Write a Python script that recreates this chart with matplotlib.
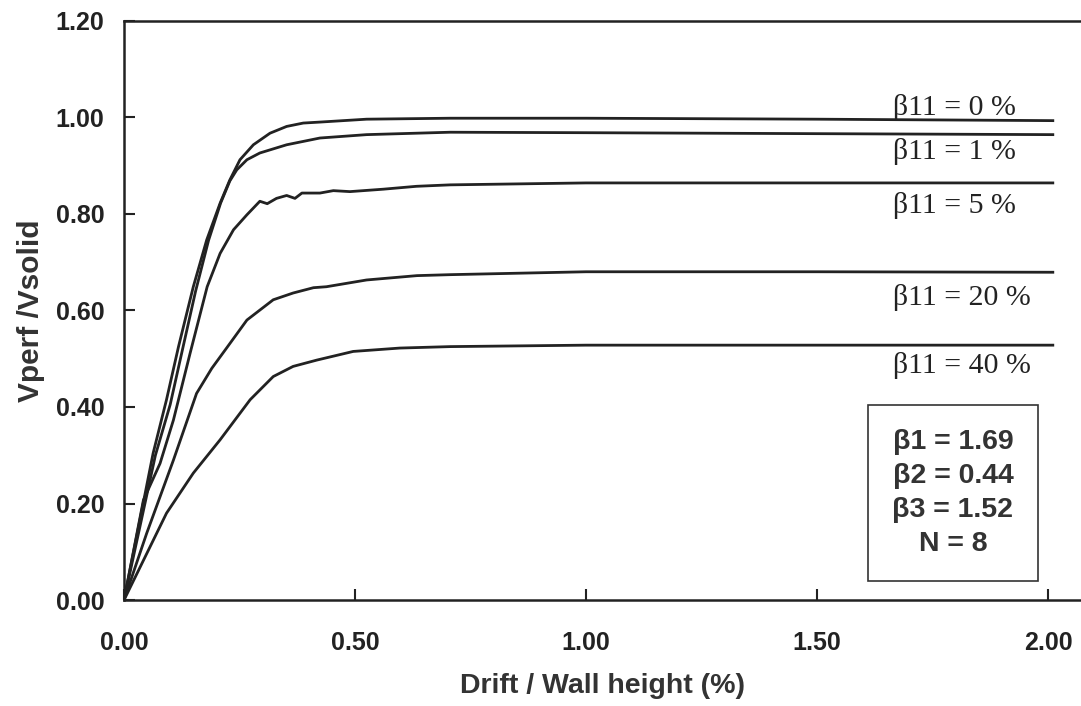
import numpy as np
import matplotlib
matplotlib.use('Agg')
import matplotlib.pyplot as plt

# curves: drift (%) vs Vperf/Vsolid
x_b0 = [0.0, 0.063, 0.092, 0.118, 0.150, 0.179, 0.208, 0.229, 0.251, 0.280, 0.316, 0.352, 0.388,
        0.424, 0.525, 0.706, 1.0, 1.5, 2.01]
y_b0 = [0.0, 0.304, 0.415, 0.525, 0.649, 0.746, 0.822, 0.870, 0.912, 0.943, 0.967, 0.981, 0.988,
        0.990, 0.996, 0.998, 0.998, 0.996, 0.993]

x_b1 = [0.0, 0.068, 0.100, 0.128, 0.155, 0.183, 0.209, 0.229, 0.244, 0.266, 0.294, 0.352, 0.424,
        0.525, 0.706, 1.0, 1.5, 2.01]
y_b1 = [0.0, 0.300, 0.405, 0.525, 0.640, 0.745, 0.822, 0.868, 0.891, 0.912, 0.926, 0.943, 0.957,
        0.964, 0.969, 0.968, 0.966, 0.964]

x_b5 = [0.0, 0.042, 0.078, 0.107, 0.143, 0.180, 0.208, 0.237, 0.266, 0.294, 0.310, 0.330, 0.352,
        0.370, 0.385, 0.424, 0.453, 0.489, 0.561, 0.633, 0.706, 1.0, 1.5, 2.01]
y_b5 = [0.0, 0.207, 0.283, 0.373, 0.511, 0.649, 0.718, 0.767, 0.798, 0.826, 0.821, 0.832, 0.838,
        0.832, 0.843, 0.843, 0.848, 0.846, 0.851, 0.857, 0.860, 0.864, 0.864, 0.864]

x_b20 = [0.0, 0.049, 0.078, 0.107, 0.157, 0.190, 0.222, 0.266, 0.323, 0.366, 0.410, 0.438, 0.525,
         0.634, 0.706, 1.0, 1.5, 2.01]
y_b20 = [0.0, 0.138, 0.214, 0.290, 0.428, 0.480, 0.522, 0.580, 0.622, 0.636, 0.647, 0.649, 0.663,
         0.672, 0.674, 0.680, 0.680, 0.679]

x_b40 = [0.0, 0.092, 0.150, 0.208, 0.273, 0.323, 0.366, 0.417, 0.496, 0.597, 0.706, 1.0, 1.5, 2.01]
y_b40 = [0.0, 0.180, 0.263, 0.332, 0.415, 0.463, 0.484, 0.497, 0.515, 0.522, 0.525, 0.528, 0.528, 0.528]

curve_labels = ['β11 = 0 %', 'β11 = 1 %', 'β11 = 5 %', 'β11 = 20 %', 'β11 = 40 %']
label_y = [1.005, 0.914, 0.802, 0.611, 0.470]
params_text = 'β1 = 1.69\nβ2 = 0.44\nβ3 = 1.52\nN = 8'

plt.rcParams['font.family'] = ['Liberation Sans', 'DejaVu Sans']

fig = plt.figure(figsize=(10.81, 7.06), dpi=100)
ax = fig.add_axes([0.1147, 0.150, 0.8853, 0.8207])

for xs, ys in [(x_b0, y_b0), (x_b1, y_b1), (x_b5, y_b5), (x_b20, y_b20), (x_b40, y_b40)]:
    ax.plot(xs, ys, color='#222222', lw=2.0)

for txt, yy in zip(curve_labels, label_y):
    ax.text(1.665, yy, txt, fontsize=21.5, family=['Liberation Serif', 'DejaVu Serif'],
            va='baseline', ha='left', color='#222222')

ax.text(1.794, 0.222, params_text, fontsize=20.5, fontweight='bold', ha='center', va='center',
        linespacing=1.4, color='#333333',
        bbox=dict(boxstyle='square,pad=0.85', fc='white', ec='#333333', lw=1.2))

ax.set_xlim(0, 2.071)
ax.set_ylim(0, 1.2)
ax.set_xticks([0, 0.5, 1.0, 1.5, 2.0])
ax.set_yticks([0, 0.2, 0.4, 0.6, 0.8, 1.0, 1.2])
ax.set_xticklabels(['0.00', '0.50', '1.00', '1.50', '2.00'])
ax.set_yticklabels(['0.00', '0.20', '0.40', '0.60', '0.80', '1.00', '1.20'])
ax.tick_params(direction='in', length=8, width=1.5, labelsize=18, colors='#222222')
ax.tick_params(axis='x', pad=22)
ax.tick_params(axis='y', pad=14)
for lab in ax.get_xticklabels() + ax.get_yticklabels():
    lab.set_fontweight('bold')
ax.spines['right'].set_visible(False)
for s in ['left', 'bottom', 'top']:
    ax.spines[s].set_linewidth(1.8)
    ax.spines[s].set_color('#222222')

ax.set_xlabel('Drift / Wall height (%)', fontsize=20.5, fontweight='bold', color='#333333', labelpad=13)
ax.set_ylabel('Vperf /Vsolid', fontsize=21.5, fontweight='bold', color='#333333', labelpad=8)

fig.savefig('out.png', dpi=100)
